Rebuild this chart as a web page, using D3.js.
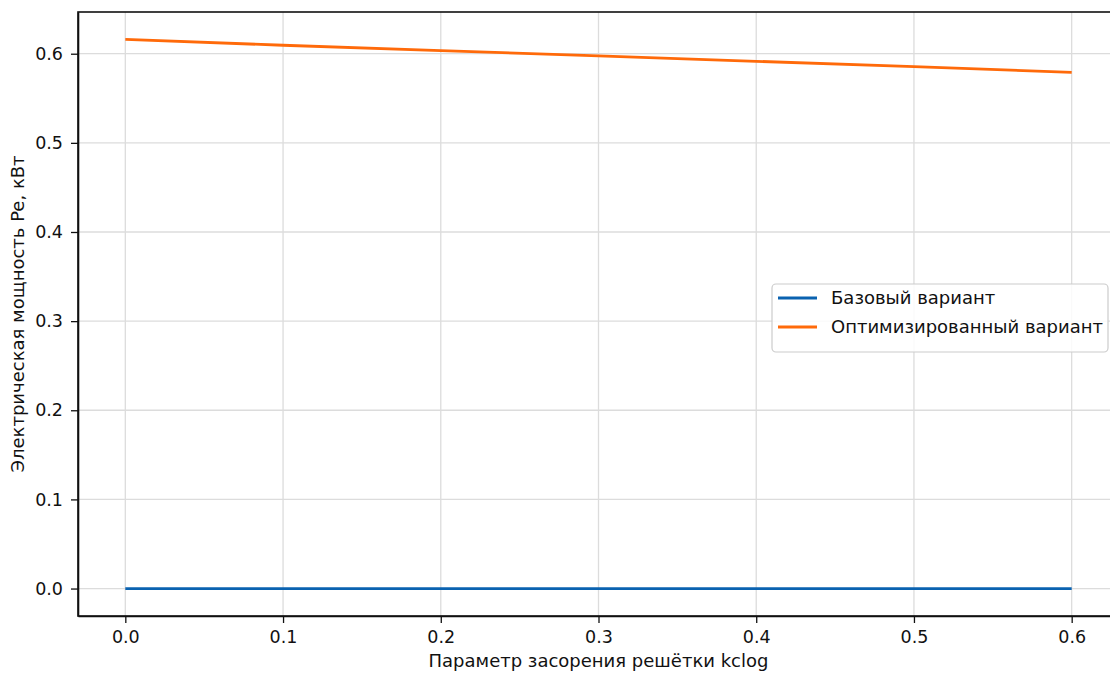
<!DOCTYPE html>
<html>
<head>
<meta charset="utf-8">
<script src="https://cdn.jsdelivr.net/npm/d3@7"></script>
<style>
  body { margin: 0; background: #fff; }
  text { font-family: "DejaVu Sans", sans-serif; }
</style>
</head>
<body>
<script>
// data
var kclog = [0.0, 0.1, 0.2, 0.3, 0.4, 0.5, 0.6];
var baseline = [0, 0, 0, 0, 0, 0, 0];
var optimized = [0.616, 0.6095, 0.6035, 0.5975, 0.5915, 0.5855, 0.579];
var xTicks = [0.0, 0.1, 0.2, 0.3, 0.4, 0.5, 0.6];
var yTicks = [0.0, 0.1, 0.2, 0.3, 0.4, 0.5, 0.6];
var seriesNames = ["Базовый вариант", "Оптимизированный вариант"];
var seriesColors = ["#0a62b0", "#ff6a0a"];

var W = 1110, H = 673;
var mLeft = 78, mTop = 12, mRight = 1119, mBottom = 616;

var svg = d3.select("body")
  .append("svg")
  .attr("width", W)
  .attr("height", H);

var x = d3.scaleLinear().domain([-0.03, 0.63]).range([mLeft, mRight]);
var y = d3.scaleLinear().domain([-0.0308, 0.6468]).range([mBottom, mTop]);

// grid
svg.append("g").selectAll("line").data(xTicks).enter().append("line")
  .attr("x1", function(d) { return x(d); })
  .attr("x2", function(d) { return x(d); })
  .attr("y1", mTop).attr("y2", mBottom)
  .attr("stroke", "#dcdcdc").attr("stroke-width", 1.3);
svg.append("g").selectAll("line").data(yTicks).enter().append("line")
  .attr("y1", function(d) { return y(d); })
  .attr("y2", function(d) { return y(d); })
  .attr("x1", mLeft).attr("x2", mRight)
  .attr("stroke", "#dcdcdc").attr("stroke-width", 1.3);

// lines
var line = d3.line()
  .x(function(d, i) { return x(kclog[i]); })
  .y(function(d) { return y(d); });

[baseline, optimized].forEach(function(s, k) {
  svg.append("path")
    .datum(s)
    .attr("d", line)
    .attr("fill", "none")
    .attr("stroke", seriesColors[k])
    .attr("stroke-width", 2.8);
});

// axes (tickSize first, it also sets the outer size)
var xAxis = d3.axisBottom(x).tickValues(xTicks).tickFormat(d3.format(".1f")).tickSize(7).tickSizeOuter(0).tickPadding(8);
var yAxis = d3.axisLeft(y).tickValues(yTicks).tickFormat(d3.format(".1f")).tickSize(7).tickSizeOuter(0).tickPadding(8);

var gx = svg.append("g").attr("transform", "translate(0," + mBottom + ")").call(xAxis);
var gy = svg.append("g").attr("transform", "translate(" + mLeft + ",0)").call(yAxis);
[gx, gy].forEach(function(g) {
  g.selectAll("text").attr("font-size", 17.5).attr("fill", "#111").style("font-family", "DejaVu Sans");
  g.selectAll("line").attr("stroke", "#111").attr("stroke-width", 1.3);
  g.select(".domain").attr("stroke", "#111").attr("stroke-width", 1.6);
});

// frame
svg.append("rect")
  .attr("x", mLeft).attr("y", mTop)
  .attr("width", mRight - mLeft).attr("height", mBottom - mTop)
  .attr("fill", "none").attr("stroke", "#111").attr("stroke-width", 1.6);

// axis titles
svg.append("text")
  .attr("x", (mLeft + mRight) / 2).attr("y", 667)
  .attr("text-anchor", "middle").attr("font-size", 18).attr("fill", "#111")
  .text("Параметр засорения решётки kclog");
svg.append("text")
  .attr("transform", "translate(24," + (mTop + mBottom) / 2 + ") rotate(-90)")
  .attr("text-anchor", "middle").attr("font-size", 18).attr("fill", "#111")
  .text("Электрическая мощность Pe, кВт");

// legend
var lg = svg.append("g");
lg.append("rect")
  .attr("x", 772).attr("y", 284).attr("width", 336).attr("height", 68)
  .attr("rx", 4).attr("fill", "#fff").attr("fill-opacity", 0.85)
  .attr("stroke", "#cccccc").attr("stroke-width", 1.2);
seriesNames.forEach(function(name, i) {
  var cy = 298 + i * 29;
  lg.append("line")
    .attr("x1", 778).attr("x2", 817).attr("y1", cy).attr("y2", cy)
    .attr("stroke", seriesColors[i]).attr("stroke-width", 2.8);
  lg.append("text")
    .attr("x", 831).attr("y", cy + 6)
    .attr("font-size", 18).attr("fill", "#111")
    .text(name);
});
</script>
</body>
</html>
